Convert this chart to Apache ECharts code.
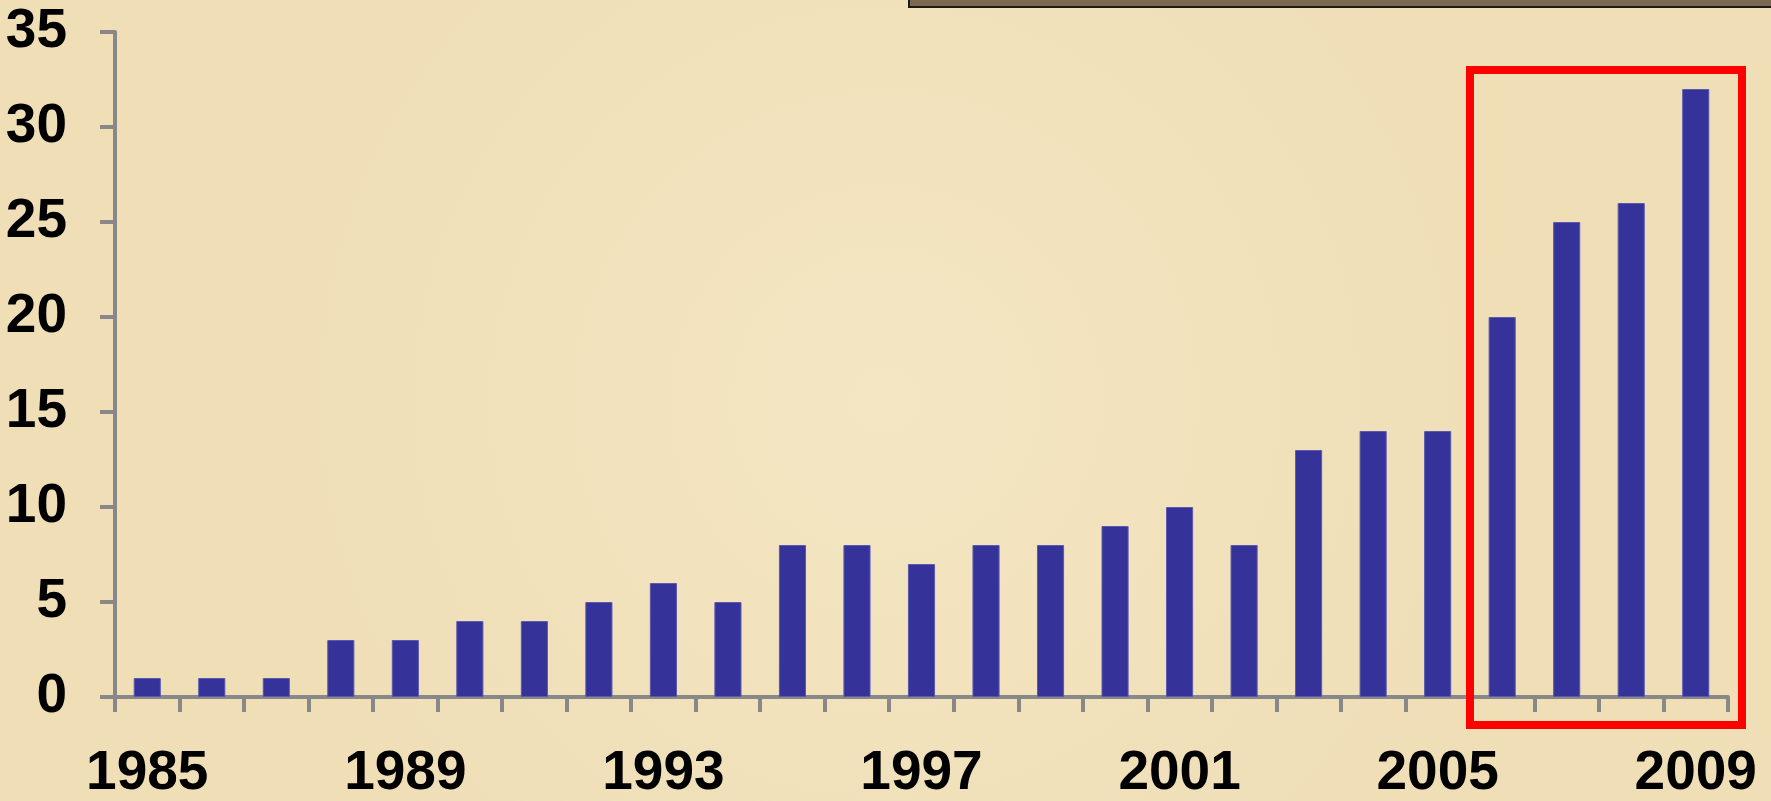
<!DOCTYPE html>
<html>
<head>
<meta charset="utf-8">
<script src="https://cdn.jsdelivr.net/npm/echarts@6/dist/echarts.min.js"></script>
<style>
  html, body { margin: 0; padding: 0; }
  #chart { width: 1771px; height: 801px; background: #f2e2bb; }
</style>
</head>
<body>
<div id="chart"></div>
<script>
// 每年数量
var years = ['1985', '1986', '1987', '1988', '1989', '1990', '1991', '1992', '1993', '1994',
    '1995', '1996', '1997', '1998', '1999', '2000', '2001', '2002', '2003', '2004',
    '2005', '2006', '2007', '2008', '2009'];
var counts = [1, 1, 1, 3, 3, 4, 4, 5, 6, 5, 8, 8, 7, 8, 8, 9, 10, 8, 13, 14, 14, 20, 25, 26, 32];

var chart = echarts.init(document.getElementById('chart'), null, {renderer: 'canvas'});

var labelFont = {
    color: '#000',
    fontFamily: 'Liberation Sans, Arial, sans-serif',
    fontWeight: 'bold',
    fontSize: 55
};

option = {
    backgroundColor: {
        type: 'radial', x: 0.5, y: 0.5, r: 0.8,
        colorStops: [
            {offset: 0, color: '#f4e6c3'},
            {offset: 1, color: '#efdeb6'}
        ]
    },
    animation: false,
    grid: {
        left: 115,
        right: 43,
        top: 32,
        bottom: 101
    },
    xAxis: {
        type: 'category',
        data: years,
        boundaryGap: true,
        axisLine: {lineStyle: {color: '#888888', width: 4}},
        axisTick: {show: true, interval: 0, length: 15, lineStyle: {color: '#888888', width: 4}},
        axisLabel: Object.assign({interval: 3, margin: 49}, labelFont)
    },
    yAxis: {
        type: 'value',
        min: 0,
        max: 35,
        interval: 5,
        splitLine: {show: false},
        axisLine: {show: true, lineStyle: {color: '#888888', width: 4}},
        axisTick: {show: true, length: 15, lineStyle: {color: '#888888', width: 4}},
        axisLabel: Object.assign({margin: 48}, labelFont)
    },
    graphic: [
        {   // 顶部的框
            type: 'rect',
            shape: {x: 909, y: -10, width: 900, height: 17},
            style: {fill: '#7a6850', stroke: '#1a1a1a', lineWidth: 2}
        },
        {   // 红框 2006-2009
            type: 'rect',
            shape: {x: 1470, y: 70, width: 272, height: 655},
            style: {fill: 'none', stroke: '#ff0000', lineWidth: 8},
            z: 10
        }
    ],
    series: [
        {
            type: 'bar',
            data: counts,
            barWidth: '42%',
            itemStyle: {color: '#353399', borderColor: '#5a58b0', borderWidth: 1}
        }
    ]
};
chart.setOption(option);
</script>
</body>
</html>
